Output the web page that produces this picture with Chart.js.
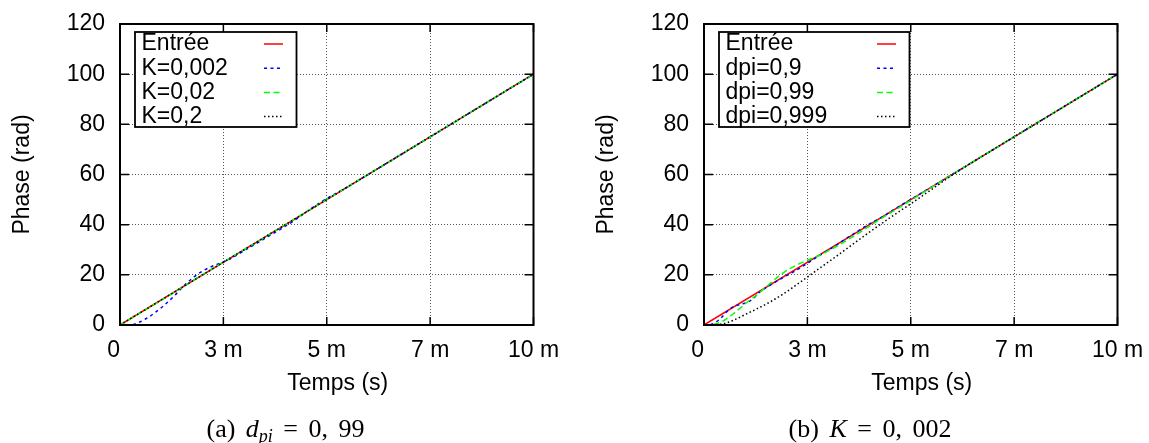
<!DOCTYPE html>
<html>
<head>
<meta charset="utf-8">
<script src="https://cdn.jsdelivr.net/npm/chart.js@4.4.1/dist/chart.umd.min.js"></script>
<style>
  html, body { margin: 0; padding: 0; background: #fff; }
  #page { position: relative; width: 1149px; height: 443px; overflow: hidden; }
  canvas { position: absolute; top: 0; }
  #gauche { left: 0; }
  #droite { left: 584px; }
  .legende { position: absolute; top: 417px; font-family: "Liberation Serif", "Times New Roman", serif; font-size: 26px; line-height: 23px; text-align: center; white-space: nowrap; color: #000; word-spacing: 4px; }
  .legende sub { font-size: 18px; vertical-align: -5px; line-height: 0; }
</style>
</head>
<body>
<div id="page">
  <canvas id="gauche" width="574" height="443"></canvas>
  <canvas id="droite" width="574" height="443"></canvas>
  <div class="legende" style="left:0;width:571px">(a) <i>d</i><sub><i>pi</i></sub> = 0, 99</div>
  <div class="legende" style="left:570px;width:600px">(b) <i>K</i> = 0, 002</div>
</div>
<script>
// graduations
const tempsTicks = [0, 2.5, 5, 7.5, 10];
const tempsLabels = ['0  ', '3 m', '5 m', '7 m', '10 m'];
const phaseTicks = [0, 20, 40, 60, 80, 100, 120];
const phaseLabels = ['0', '20', '40', '60', '80', '100', '120'];

// entrée (identique sur les deux figures)
const tempsEntree = [0, 10];
const phaseEntree = [0, 100];

// (a) dpi = 0,99
const tempsK0002 = [0, 0.28, 0.45, 0.65, 0.85, 1.05, 1.3, 1.6, 1.9, 2.2, 2.45, 2.7, 3.0, 3.4, 3.8, 4.2, 4.6, 5.0, 5.4, 6, 7, 8, 9, 10];
const phaseK0002 = [0, 0, 1.0, 2.7, 5.0, 7.6, 11.4, 16.5, 20.5, 23.2, 24.8, 26.7, 29.6, 33.5, 37.4, 41.5, 46.2, 50.4, 54.1, 60, 70, 80, 90, 100];
const tempsK002 = [0, 0.5, 1, 1.5, 2, 2.5, 3, 4, 5, 6, 7, 8, 9, 10];
const phaseK002 = [0, 4.9, 9.9, 15.0, 20.1, 25.1, 30.0, 40.0, 50.0, 60, 70, 80, 90, 100];
const tempsK02 = [0, 0.5, 1, 1.5, 2, 2.5, 3, 4, 5, 6, 7, 8, 9, 10];
const phaseK02 = [0, 5.0, 10.0, 15.0, 20.0, 25.0, 30.0, 40.0, 50.0, 60, 70, 80, 90, 100];

// (b) K = 0,002
const tempsDpi09 = [0, 0.2, 0.4, 0.55, 0.7, 0.85, 1.0, 1.15, 1.35, 1.6, 1.9, 2.2, 2.5, 2.8, 3.1, 3.5, 3.9, 4.3, 4.7, 5.2, 6, 7, 8, 9, 10];
const phaseDpi09 = [0, 0.4, 2.6, 5.3, 7.2, 8.1, 8.8, 10.0, 13.2, 15.9, 18.8, 21.5, 24.6, 27.8, 30.8, 35.1, 39.3, 43.0, 47.1, 52, 60, 70, 80, 90, 100];
const tempsDpi099 = [0, 0.25, 0.5, 0.75, 1.0, 1.3, 1.6, 1.9, 2.2, 2.5, 2.8, 3.1, 3.5, 3.9, 4.3, 4.8, 5.3, 6, 7, 8, 9, 10];
const phaseDpi099 = [0, 0.3, 2.0, 5.0, 8.5, 12.3, 16.6, 20.6, 23.6, 25.8, 27.8, 30.4, 34.2, 38.3, 42.6, 47.6, 52.8, 60, 70, 80, 90, 100];
const tempsDpi0999 = [0, 0.4, 0.7, 1.0, 1.3, 1.6, 1.9, 2.2, 2.5, 2.8, 3.1, 3.5, 4.0, 4.5, 5.0, 5.5, 6, 7, 8, 9, 10];
const phaseDpi0999 = [0, 0.3, 1.8, 4.2, 6.6, 9.2, 12.2, 15.6, 19.1, 22.7, 26.2, 31.0, 37.0, 42.8, 48.3, 54.0, 59.7, 70, 80, 90, 100];

const famille = '"Liberation Sans", Arial, Helvetica, sans-serif';
const police = { family: famille, size: 23 };
const policeX = { family: famille, size: 23, lineHeight: 1 };
const policeY = { family: famille, size: 23, lineHeight: 0.75 };
Chart.defaults.color = '#000';

const points = (t, p) => t.map((v, i) => ({ x: v, y: p[i] }));

let serie = (label, t, p, couleur, tirets, ordre) => ({
  label,
  data: points(t, p),
  borderColor: couleur,
  borderWidth: 1.5,
  borderDash: tirets,
  pointRadius: 0,
  fill: false,
  cubicInterpolationMode: 'monotone',
  order: ordre
});

// pas de grille sur le cadre
let grille = (c, max) => {
  if (!c.tick || c.tick.value === 0 || c.tick.value === max) return 'rgba(0,0,0,0)';
  return '#555555';
};

// cadre, graduations vers l'intérieur, légende encadrée, titre de l'axe x
const cadre = {
  id: 'cadre',
  afterDatasetsDraw(chart) {
    const { ctx, chartArea: a, scales: { x, y } } = chart;
    ctx.save();
    ctx.setLineDash([]);
    ctx.strokeStyle = '#000';
    ctx.lineWidth = 1.5;
    ctx.beginPath();
    tempsTicks.forEach(v => {
      const px = x.getPixelForValue(v);
      ctx.moveTo(px, a.bottom); ctx.lineTo(px, a.bottom - 8);
      ctx.moveTo(px, a.top); ctx.lineTo(px, a.top + 8);
    });
    phaseTicks.forEach(v => {
      const py = y.getPixelForValue(v);
      ctx.moveTo(a.left, py); ctx.lineTo(a.left + 9, py);
      ctx.moveTo(a.right, py); ctx.lineTo(a.right - 9, py);
    });
    ctx.stroke();

    const items = chart.data.datasets;
    const nb = Math.max(...items.map(d => d.label.length));
    const lx = a.left + 15, ly = a.top + 8, lw = nb * 14.5 + 60, lh = 95;
    ctx.fillStyle = '#fff';
    ctx.fillRect(lx, ly, lw, lh);
    ctx.lineWidth = 1.8;
    ctx.strokeRect(lx, ly, lw, lh);
    ctx.font = '23px ' + famille;
    ctx.textBaseline = 'middle';
    ctx.textAlign = 'left';
    items.forEach((d, i) => {
      const cy = ly + 12 + i * 24.2;
      ctx.fillStyle = '#000';
      ctx.fillText(d.label, lx + 6.5, cy);
      ctx.beginPath();
      ctx.strokeStyle = d.borderColor;
      ctx.lineWidth = d.borderWidth;
      ctx.setLineDash(d.borderDash || []);
      ctx.moveTo(lx + lw - 32.5, cy);
      ctx.lineTo(lx + lw - 13.5, cy);
      ctx.stroke();
    });

    ctx.setLineDash([]);
    ctx.strokeStyle = '#000';
    ctx.lineWidth = 2;
    ctx.strokeRect(a.left, a.top, a.right - a.left, a.bottom - a.top);

    ctx.fillStyle = '#000';
    ctx.textAlign = 'center';
    ctx.fillText('Temps (s)', (a.left + a.right) / 2 + 11, 384);
    ctx.restore();
  }
};

let options = () => ({
  responsive: false,
  animation: false,
  events: [],
  layout: { padding: { left: 0, right: 40.5, top: 24, bottom: 0 } },
  plugins: { legend: { display: false }, tooltip: { enabled: false } },
  scales: {
    x: {
      type: 'linear', min: 0, max: 10,
      afterBuildTicks: s => { s.ticks = tempsTicks.map(v => ({ value: v })); },
      afterFit: s => { s.height = 118; },
      ticks: { callback: (v, i) => tempsLabels[i], font: policeX, color: '#000', padding: 14.5, maxRotation: 0, autoSkip: false },
      grid: { color: c => grille(c, 10), lineWidth: 1, drawTicks: false },
      border: { display: false, dash: [1, 2] }
    },
    y: {
      type: 'linear', min: 0, max: 120,
      afterBuildTicks: s => { s.ticks = phaseTicks.map(v => ({ value: v })); },
      afterFit: s => { s.width = 120; },
      ticks: { callback: (v, i) => phaseLabels[i], font: policeY, color: '#000', padding: 15, autoSkip: false },
      grid: { color: c => grille(c, 120), lineWidth: 1, drawTicks: false },
      border: { display: false, dash: [1, 2] },
      title: { display: true, text: 'Phase (rad)', font: police, color: '#000', padding: { top: 9, bottom: 0 } }
    }
  }
});

new Chart(document.getElementById('gauche'), {
  type: 'line',
  data: {
    datasets: [
      serie('Entrée', tempsEntree, phaseEntree, '#ff0000', [], 4),
      serie('K=0,002', tempsK0002, phaseK0002, '#0000ff', [3, 3.5], 3),
      serie('K=0,02', tempsK002, phaseK002, '#00ff00', [6, 3.5], 2),
      serie('K=0,2', tempsK02, phaseK02, '#000000', [1.5, 2.5], 1)
    ]
  },
  options: options(),
  plugins: [cadre]
});

new Chart(document.getElementById('droite'), {
  type: 'line',
  data: {
    datasets: [
      serie('Entrée', tempsEntree, phaseEntree, '#ff0000', [], 4),
      serie('dpi=0,9', tempsDpi09, phaseDpi09, '#0000ff', [3, 3.5], 3),
      serie('dpi=0,99', tempsDpi099, phaseDpi099, '#00ff00', [6, 3.5], 2),
      serie('dpi=0,999', tempsDpi0999, phaseDpi0999, '#000000', [1.5, 2.5], 1)
    ]
  },
  options: options(),
  plugins: [cadre]
});
</script>
</body>
</html>
